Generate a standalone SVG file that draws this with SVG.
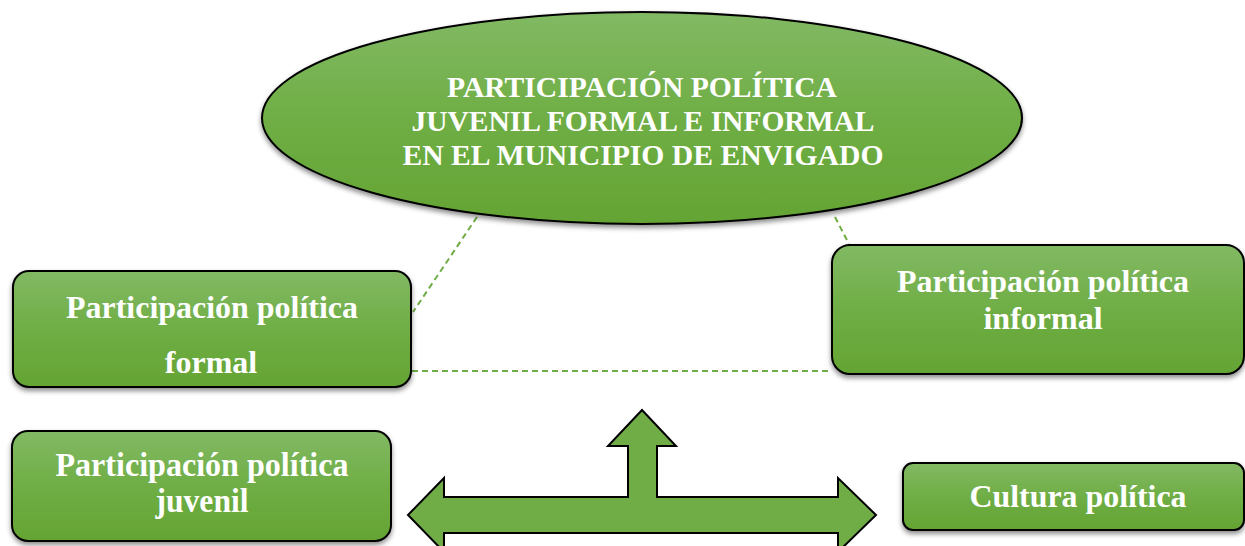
<svg xmlns="http://www.w3.org/2000/svg" width="1245" height="546" viewBox="0 0 1245 546">
<defs>
<linearGradient id="g" x1="0" y1="0" x2="0" y2="1">
<stop offset="0" stop-color="#82b964"/>
<stop offset="0.5" stop-color="#6fae45"/>
<stop offset="1" stop-color="#64a433"/>
</linearGradient>
<filter id="sh" x="-10%" y="-10%" width="120%" height="130%">
<feDropShadow dx="0" dy="3" stdDeviation="2.5" flood-color="#000" flood-opacity="0.45"/>
</filter>
</defs>
<style>
.n{fill:url(#g);stroke:#000;stroke-width:2;filter:url(#sh)}
.t{font-family:"Liberation Serif","Times New Roman",serif;font-weight:bold;fill:#fff;text-anchor:middle}
.c{stroke:#70ad47;stroke-width:2;stroke-dasharray:6,4;fill:none}
.a{fill:#70ad47;stroke:#000;stroke-width:2;stroke-linejoin:miter}
</style>
<g id="connectors">
<line class="c" x1="477" y1="217" x2="413" y2="312"/>
<line class="c" x1="835" y1="217" x2="849" y2="244"/>
<line class="c" x1="412" y1="371" x2="832" y2="371"/>
</g>
<g id="main">
<ellipse class="n" cx="642" cy="118" rx="380" ry="106"/>
<text class="t" font-size="30" x="642" y="97" textLength="390" lengthAdjust="spacingAndGlyphs">PARTICIPACIÓN POLÍTICA</text>
<text class="t" font-size="30" x="643" y="131" textLength="463" lengthAdjust="spacingAndGlyphs">JUVENIL FORMAL E INFORMAL</text>
<text class="t" font-size="30" x="643" y="165" textLength="481" lengthAdjust="spacingAndGlyphs">EN EL MUNICIPIO DE ENVIGADO</text>
</g>
<g id="formal">
<rect class="n" x="13" y="271" width="398" height="116" rx="16"/>
<text class="t" font-size="32" x="212" y="318" textLength="292" lengthAdjust="spacingAndGlyphs">Participación política</text>
<text class="t" font-size="32" x="211" y="373">formal</text>
</g>
<g id="informal">
<rect class="n" x="832" y="245" width="412" height="129" rx="18"/>
<text class="t" font-size="32" x="1043" y="292" textLength="292" lengthAdjust="spacingAndGlyphs">Participación política</text>
<text class="t" font-size="32" x="1043" y="329">informal</text>
</g>
<g id="juvenil">
<rect class="n" x="12" y="431" width="379" height="110" rx="16"/>
<text class="t" font-size="34" x="202" y="476" textLength="293" lengthAdjust="spacingAndGlyphs">Participación política</text>
<text class="t" font-size="34" x="202" y="512" textLength="93" lengthAdjust="spacingAndGlyphs">juvenil</text>
</g>
<g id="cultura">
<rect class="n" x="903" y="463" width="341" height="67" rx="10"/>
<text class="t" font-size="32" x="1078" y="507" textLength="217" lengthAdjust="spacingAndGlyphs">Cultura política</text>
</g>
<g id="arrow">
<path class="a" d="M408,515 L444,478 L444,497 L628,497 L628,446 L608,446 L642,410 L676,446 L657,446 L657,497 L838,497 L838,478 L876,515 L838,552 L838,533 L444,533 L444,552 Z"/>
</g>
</svg>
